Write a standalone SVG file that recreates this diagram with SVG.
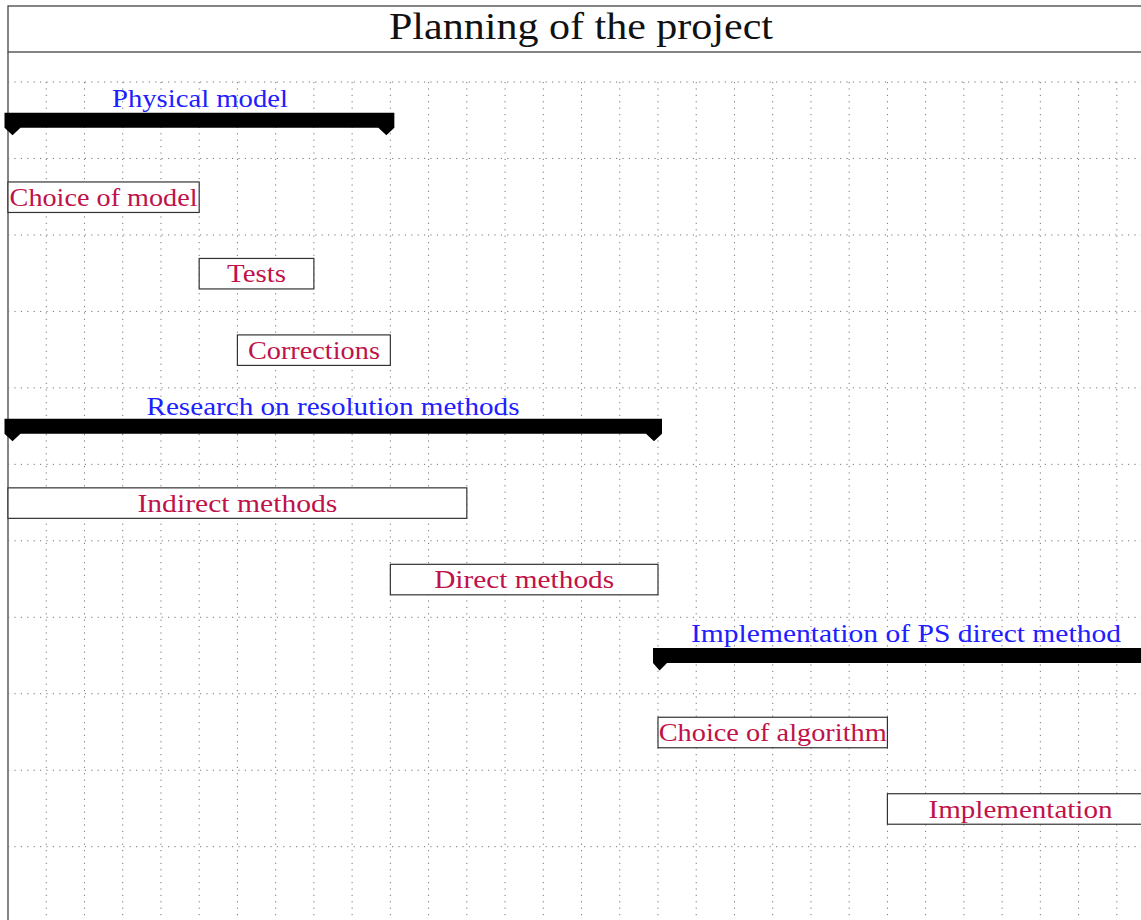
<svg xmlns="http://www.w3.org/2000/svg" width="1141" height="920" viewBox="0 0 1141 920">
  <style>
    .frame { fill: none; stroke: #444; stroke-width: 1.3; }
    .hgrid { stroke: #777; stroke-width: 1; stroke-dasharray: 1.2 5.2; fill: none; }
    .vgrid { stroke: #777; stroke-width: 1; stroke-dasharray: 1.2 5.2; fill: none; }
    .bar { fill: #fff; stroke: #333; stroke-width: 1.2; }
    .group { fill: #000; }
    .title { font-family: "Liberation Serif", "DejaVu Serif", serif; font-size: 37px; fill: #111; }
    .tlabel { font-family: "Liberation Serif", "DejaVu Serif", serif; font-size: 25px; fill: #c0124a; }
    .glabel { font-family: "Liberation Serif", "DejaVu Serif", serif; font-size: 25px; fill: #2020ff; }
  </style>
  <rect width="1141" height="920" fill="#fff"/>

  <!-- title row and chart frame -->
  <g id="title">
    <rect class="frame" x="8" y="6" width="1147" height="46"/>
    <line class="frame" x1="8" y1="52" x2="8" y2="930"/>
    <text class="title" x="581" y="39" text-anchor="middle" textLength="384" lengthAdjust="spacingAndGlyphs">Planning of the project</text>
  </g>

  <!-- grid: one vertical per column (38.235), one horizontal per row (76.47) -->
  <g id="grid">
    <path class="hgrid" d="M8,82H1155 M8,158.47H1155 M8,234.94H1155 M8,311.41H1155 M8,387.88H1155 M8,464.35H1155 M8,540.82H1155 M8,617.29H1155 M8,693.76H1155 M8,770.23H1155 M8,846.7H1155"/>
    <path class="vgrid" d="M46.24,82V920 M84.47,82V920 M122.71,82V920 M160.94,82V920 M199.18,82V920 M237.41,82V920 M275.65,82V920 M313.88,82V920 M352.12,82V920 M390.35,82V920 M428.59,82V920 M466.82,82V920 M505.06,82V920 M543.29,82V920 M581.53,82V920 M619.76,82V920 M657.99,82V920 M696.23,82V920 M734.46,82V920 M772.7,82V920 M810.94,82V920 M849.17,82V920 M887.41,82V920 M925.64,82V920 M963.88,82V920 M1002.11,82V920 M1040.35,82V920 M1078.58,82V920 M1116.82,82V920"/>
  </g>

  <!-- group: Physical model (columns 0-10) -->
  <g id="physical-model">
    <path class="group" d="M4.5,112.8H394.35V127.8L386.35,135.3L378.35,127.8H20.5L12.5,135.3L4.5,127.8Z"/>
    <text class="glabel" x="200" y="107" text-anchor="middle" textLength="176" lengthAdjust="spacingAndGlyphs">Physical model</text>
  </g>

  <g id="choice-of-model">
    <rect class="bar" x="8" y="181.97" width="191.18" height="30.5"/>
    <text class="tlabel" x="103.6" y="206" text-anchor="middle" textLength="188" lengthAdjust="spacingAndGlyphs">Choice of model</text>
  </g>

  <g id="tests">
    <rect class="bar" x="199.18" y="258.44" width="114.7" height="30.5"/>
    <text class="tlabel" x="256.5" y="282.4" text-anchor="middle" textLength="59" lengthAdjust="spacingAndGlyphs">Tests</text>
  </g>

  <g id="corrections">
    <rect class="bar" x="237.41" y="334.91" width="152.94" height="30.5"/>
    <text class="tlabel" x="313.9" y="358.9" text-anchor="middle" textLength="132" lengthAdjust="spacingAndGlyphs">Corrections</text>
  </g>

  <!-- group: Research on resolution methods (columns 0-17) -->
  <g id="research">
    <path class="group" d="M4.5,418.68H661.99V433.68L653.99,441.18L645.99,433.68H20.5L12.5,441.18L4.5,433.68Z"/>
    <text class="glabel" x="333" y="415" text-anchor="middle" textLength="373" lengthAdjust="spacingAndGlyphs">Research on resolution methods</text>
  </g>

  <g id="indirect-methods">
    <rect class="bar" x="8" y="487.85" width="458.82" height="30.5"/>
    <text class="tlabel" x="237.4" y="511.8" text-anchor="middle" textLength="200" lengthAdjust="spacingAndGlyphs">Indirect methods</text>
  </g>

  <g id="direct-methods">
    <rect class="bar" x="390.35" y="564.32" width="267.64" height="30.5"/>
    <text class="tlabel" x="524.2" y="588.3" text-anchor="middle" textLength="180" lengthAdjust="spacingAndGlyphs">Direct methods</text>
  </g>

  <!-- group: Implementation of PS direct method (columns 17-30, runs past the right edge) -->
  <g id="implementation-ps">
    <path class="group" d="M653,648.09H1160V663.09H667L659.5,670.59L653,663.09Z"/>
    <text class="glabel" x="906" y="641.5" text-anchor="middle" textLength="430" lengthAdjust="spacingAndGlyphs">Implementation of PS direct method</text>
  </g>

  <g id="choice-of-algorithm">
    <rect class="bar" x="657.99" y="717.26" width="229.42" height="30.5"/>
    <text class="tlabel" x="772.7" y="741.2" text-anchor="middle" textLength="228" lengthAdjust="spacingAndGlyphs">Choice of algorithm</text>
  </g>

  <g id="implementation">
    <rect class="bar" x="887.41" y="793.73" width="267.64" height="30.5"/>
    <text class="tlabel" x="1020.5" y="817.7" text-anchor="middle" textLength="184" lengthAdjust="spacingAndGlyphs">Implementation</text>
  </g>
</svg>
